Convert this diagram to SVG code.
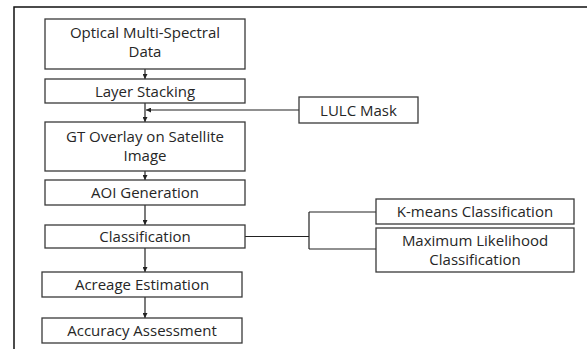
<svg xmlns="http://www.w3.org/2000/svg" width="587" height="349" viewBox="0 0 587 349">
  <defs>
    <marker id="arrow" viewBox="0 0 8 8" refX="8" refY="4" markerWidth="5" markerHeight="5" orient="auto" markerUnits="userSpaceOnUse">
      <path d="M0,0 L8,4 L0,8 z" fill="#222"/>
    </marker>
    <style>
      .box { fill: #fff; stroke: #3a3a3a; stroke-width: 1.3; }
      .lbl { font-family: "Open Sans", "Noto Sans", "Liberation Sans", sans-serif; font-size: 15px; fill: #262626; text-anchor: middle; }
      .edge { fill: none; stroke: #222; stroke-width: 1.2; }
      .frame { fill: none; stroke: #111; stroke-width: 1.5; }
    </style>
  </defs>
  <rect width="587" height="349" fill="#fff"/>
  <path class="frame" d="M14,349 V7 H587"/>

  <g id="connectors">
    <line class="edge" x1="145" y1="69" x2="145" y2="79" marker-end="url(#arrow)"/>
    <line class="edge" x1="145" y1="103" x2="145" y2="122" marker-end="url(#arrow)"/>
    <line class="edge" x1="299" y1="110" x2="146" y2="110" marker-end="url(#arrow)"/>
    <line class="edge" x1="145" y1="171" x2="145" y2="180" marker-end="url(#arrow)"/>
    <line class="edge" x1="145" y1="205" x2="145" y2="225" marker-end="url(#arrow)"/>
    <line class="edge" x1="145" y1="248" x2="145" y2="272" marker-end="url(#arrow)"/>
    <line class="edge" x1="145" y1="297" x2="145" y2="318" marker-end="url(#arrow)"/>
    <path class="edge" d="M245,236.5 H309 M309,212 V249 M309,212 H376 M309,249 H376"/>
  </g>

  <g id="optical">
    <rect class="box" x="45" y="19" width="200" height="50"/>
    <text class="lbl" x="145" y="37.5">Optical Multi-Spectral<tspan x="145" dy="19">Data</tspan></text>
  </g>
  <g id="layer-stacking">
    <rect class="box" x="45" y="79" width="200" height="24"/>
    <text class="lbl" x="145" y="96.5">Layer Stacking</text>
  </g>
  <g id="lulc-mask">
    <rect class="box" x="299" y="97" width="119" height="26"/>
    <text class="lbl" x="358.5" y="115.5">LULC Mask</text>
  </g>
  <g id="gt-overlay">
    <rect class="box" x="45" y="122" width="200" height="49"/>
    <text class="lbl" x="145" y="141.5">GT Overlay on Satellite<tspan x="145" dy="19">Image</tspan></text>
  </g>
  <g id="aoi">
    <rect class="box" x="45" y="180" width="200" height="25"/>
    <text class="lbl" x="145" y="197.5">AOI Generation</text>
  </g>
  <g id="classification">
    <rect class="box" x="45" y="225" width="200" height="23"/>
    <text class="lbl" x="145" y="242">Classification</text>
  </g>
  <g id="kmeans">
    <rect class="box" x="376" y="199" width="198" height="25"/>
    <text class="lbl" x="475" y="217">K-means Classification</text>
  </g>
  <g id="max-likelihood">
    <rect class="box" x="376" y="228" width="198" height="44"/>
    <text class="lbl" x="475" y="246">Maximum Likelihood<tspan x="475" dy="19">Classification</tspan></text>
  </g>
  <g id="acreage">
    <rect class="box" x="42" y="272" width="200" height="25"/>
    <text class="lbl" x="142" y="290">Acreage Estimation</text>
  </g>
  <g id="accuracy">
    <rect class="box" x="42" y="318" width="200" height="25"/>
    <text class="lbl" x="142" y="336">Accuracy Assessment</text>
  </g>
</svg>
